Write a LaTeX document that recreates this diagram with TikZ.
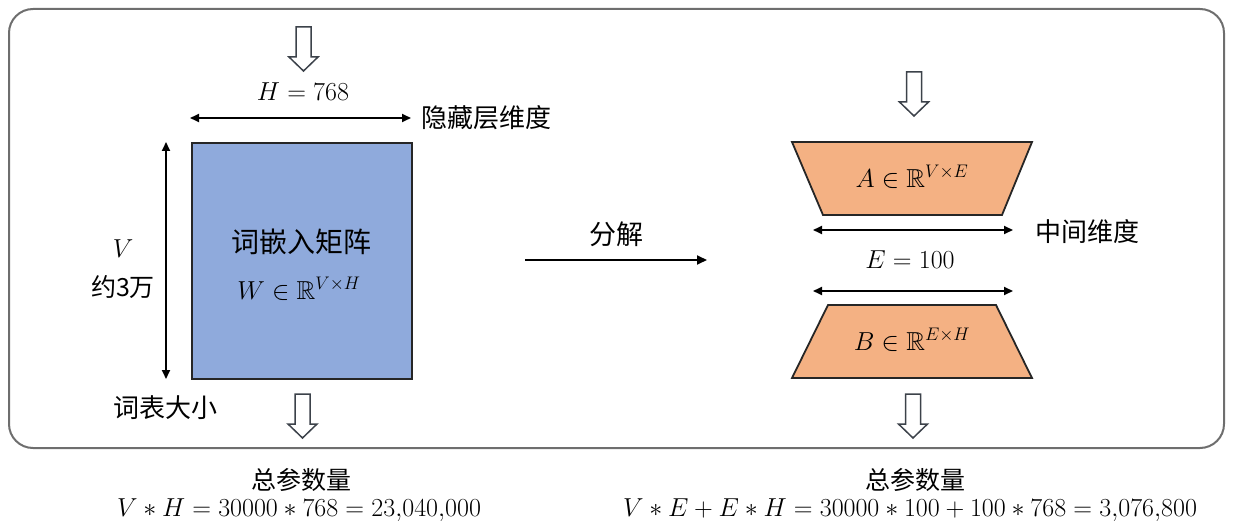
\documentclass[tikz,border=0pt]{standalone}
\usepackage{fix-cm}
\usepackage{amsmath,amssymb}
\usepackage{fontspec}
\newfontfamily\cjk{Noto Sans CJK SC}
\usetikzlibrary{arrows.meta}
\definecolor{wblue}{RGB}{143,170,220}
\definecolor{torange}{RGB}{244,177,131}
\definecolor{framegray}{RGB}{110,110,110}
\definecolor{arrowgray}{RGB}{60,66,74}
\tikzset{
  frame/.style={draw=framegray, line width=2pt, rounded corners=24pt},
  mat/.style={draw=black!85, line width=1.8pt},
  dbl/.style={line width=1.8pt, {Triangle[length=9pt,width=8pt]}-{Triangle[length=9pt,width=8pt]}},
  single/.style={line width=1.8pt, -{Triangle[length=10pt,width=9pt]}},
  cjklbl/.style={font=\cjk\fontsize{26}{30}\selectfont, inner sep=0pt},
  mathlbl/.style={font=\fontsize{26}{30}\selectfont, inner sep=0pt},
  harrow/.pic={\draw[draw=arrowgray, line width=1.5pt, fill=white, line join=miter]
     (-7.5,0) -- (7.5,0) -- (7.5,30) -- (14.5,30) -- (0,44) -- (-14.5,30) -- (-7.5,30) -- cycle;}
}
\begin{document}
\begin{tikzpicture}[x=1pt,y=-1pt]
\useasboundingbox (0,0) rectangle (1237,532);
\draw[frame] (9,9) rectangle (1224,448);

% ---------- left: embedding matrix ----------
\pic at (303.5,27) {harrow};
\node[mathlbl] (hlab) at (303,92) {$H = 768$};
\coordinate (hl) at (190,118);
\coordinate (hr) at (411,118);
\draw[dbl] (hl) -- (hr);
\node[cjklbl] (hid) at (486,118) {隐藏层维度};

\node[mat, fill=wblue, minimum width=220pt, minimum height=236pt, anchor=north west, inner sep=0pt] (W) at (191,142) {};
\node[cjklbl, font=\cjk\fontsize{28}{32}\selectfont] (wtitle) at (301,242) {词嵌入矩阵};
\node[mathlbl] (wmath) at (299,289) {$W \in \mathbb{R}^{V\times H}$};

\coordinate (vt) at (166,142);
\coordinate (vb) at (166,379);
\draw[dbl] (vt) -- (vb);
\node[mathlbl] (vlab) at (123,249) {$V$};
\node[cjklbl, font=\cjk\fontsize{25}{30}\selectfont] (v3) at (123,287) {约3万};
\node[cjklbl] (vocab) at (165,408) {词表大小};

\pic at (302.5,394) {harrow};
\node[cjklbl, font=\cjk\fontsize{25}{30}\selectfont] (totl) at (301,480) {总参数量};
\node[mathlbl] (forml) at (299,510) {$V * H = 30000 * 768 = 23{,}040{,}000$};

% ---------- middle ----------
\node[cjklbl, font=\cjk\fontsize{27}{30}\selectfont] (dec) at (616,234) {分解};
\coordinate (dl) at (525,260);
\coordinate (dr) at (707,260);
\draw[single] (dl) -- (dr);

% ---------- right: factorisation ----------
\pic at (914,72) {harrow};
\draw[mat, fill=torange] (792,142) -- (1032,142) -- (1002,215) -- (823,215) -- cycle;
\node[mathlbl] (amath) at (912,177) {$A \in \mathbb{R}^{V\times E}$};

\coordinate (el1) at (813,230);
\coordinate (er1) at (1013,230);
\draw[dbl] (el1) -- (er1);
\node[cjklbl] (mid) at (1087,232) {中间维度};
\node[mathlbl] (elab) at (910,260) {$E = 100$};
\coordinate (el2) at (813,291);
\coordinate (er2) at (1013,291);
\draw[dbl] (el2) -- (er2);

\draw[mat, fill=torange] (828,305) -- (996,305) -- (1032,378) -- (792,378) -- cycle;
\node[mathlbl] (bmath) at (912,340) {$B \in \mathbb{R}^{E\times H}$};

\pic at (913,394) {harrow};
\node[cjklbl, font=\cjk\fontsize{25}{30}\selectfont] (totr) at (915,480) {总参数量};
\node[mathlbl] (formr) at (910,510) {$V * E + E * H = 30000 * 100 + 100 * 768 = 3{,}076{,}800$};
\end{tikzpicture}
\end{document}
